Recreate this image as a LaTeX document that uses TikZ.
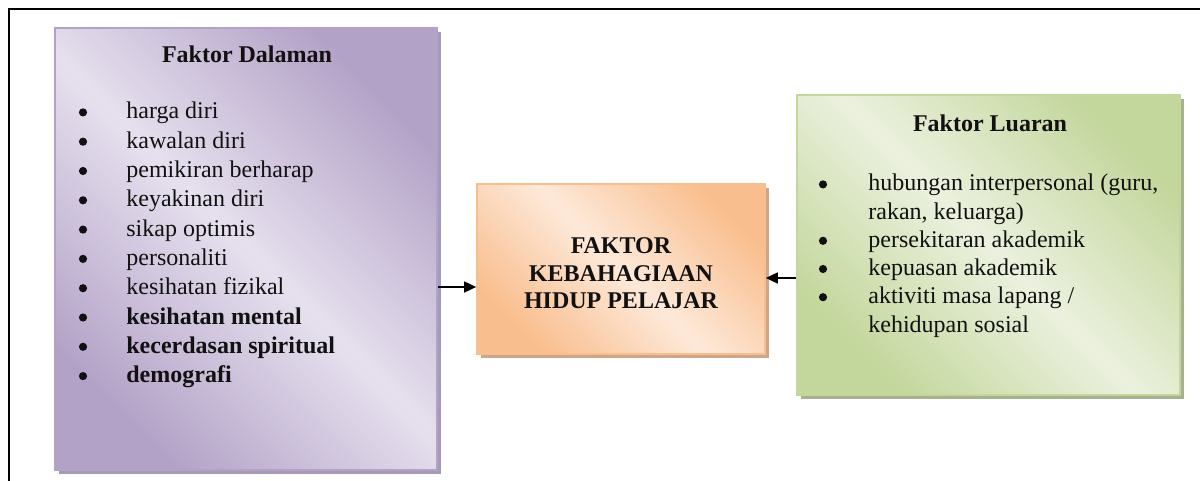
\documentclass[tikz,border=0pt]{standalone}
\usepackage{fontspec}
\setmainfont{Liberation Serif}
\usetikzlibrary{shadows,arrows.meta}

% panel colours
\definecolor{dalDark}{HTML}{B3A2C7}
\definecolor{dalLight}{HTML}{E6E0EE}
\definecolor{dalShade}{HTML}{A69AB6}
\definecolor{fakDark}{HTML}{F9BE8E}
\definecolor{fakLight}{HTML}{FDE9D9}
\definecolor{fakShade}{HTML}{CDA68A}
\definecolor{luaDark}{HTML}{C3D69B}
\definecolor{luaLight}{HTML}{EBF1DE}
\definecolor{luaShade}{HTML}{A7B190}
\definecolor{ink}{HTML}{111111}

\begin{document}
\begin{tikzpicture}[x=0.5pt,y=-0.5pt,
  every node/.style={font=\fontsize{12}{14}\selectfont, text=ink},
  panel/.style 2 args={draw=#1Dark, line width=0.8pt, inner sep=0pt,
    top color=#1Dark, bottom color=#1Dark, middle color=#1Light,
    shading angle=-45,
    drop shadow={shadow xshift=2pt, shadow yshift=-2pt, fill=#2, opacity=1}},
  bul/.style={circle, fill=ink, inner sep=0pt, minimum size=4.1pt, yshift=3.3pt},
  item/.style={anchor=base west, inner sep=0pt},
  head/.style={anchor=base, inner sep=0pt, font=\bfseries\fontsize{12}{14}\selectfont},
  arr/.style={-{Triangle[length=6pt,width=5.4pt]}, line width=1.1pt, draw=black}
]
\useasboundingbox (0,0) rectangle (1200,481);

% outer frame (top and left rules)
\draw[line width=1pt] (9,481) -- (9,9) -- (1200,9);

% the three panels
\node[panel={dal}{dalShade}, minimum width=191pt, minimum height=221pt] (dal) at (246,249) {};
\node[panel={fak}{fakShade}, minimum width=144pt, minimum height=85pt] (fak) at (621,269) {};
\node[panel={lua}{luaShade}, minimum width=191.5pt, minimum height=150pt] (lua) at (988.5,245) {};

% internal factors
\node[head] (dalTitle) at (247,63) {Faktor Dalaman};
\foreach \t [count=\i] in {harga diri, kawalan diri, pemikiran berharap,
    keyakinan diri, sikap optimis, personaliti, kesihatan fizikal,
    \textbf{kesihatan mental}, \textbf{kecerdasan spiritual}, \textbf{demografi}} {
  \node[bul] (dalB\i) at ({83},{119+29.3*(\i-1)}) {};
  \node[item] (dalI\i) at ({126},{119+29.3*(\i-1)}) {\t};
}

% central factor
\node[align=center, inner sep=0pt, font=\bfseries\fontsize{12}{13.75}\selectfont]
  (fakText) at (621,273.5) {FAKTOR\\KEBAHAGIAAN\\HIDUP PELAJAR};

% external factors
\node[head] (luaTitle) at (990,132) {Faktor Luaran};
\node[bul]  (luaB1) at (823,191)   {};
\node[item] (luaI1) at (868,191)   {hubungan interpersonal (guru,};
\node[item] (luaI1b) at (868,219.2) {rakan, keluarga)};
\node[bul]  (luaB2) at (823,247.4) {};
\node[item] (luaI2) at (868,247.4) {persekitaran akademik};
\node[bul]  (luaB3) at (823,275.6) {};
\node[item] (luaI3) at (868,275.6) {kepuasan akademik};
\node[bul]  (luaB4) at (823,303.8) {};
\node[item] (luaI4) at (868,303.8) {aktiviti masa lapang /};
\node[item] (luaI4b) at (868,332)  {kehidupan sosial};

% connectors into the central factor
\draw[arr] ([yshift=-9pt]fak.west -| dal.east) -- ([yshift=-9pt]fak.west);
\draw[arr] ([yshift=-4.5pt]fak.east -| lua.west) -- ([yshift=-4.5pt]fak.east);
\end{tikzpicture}
\end{document}
